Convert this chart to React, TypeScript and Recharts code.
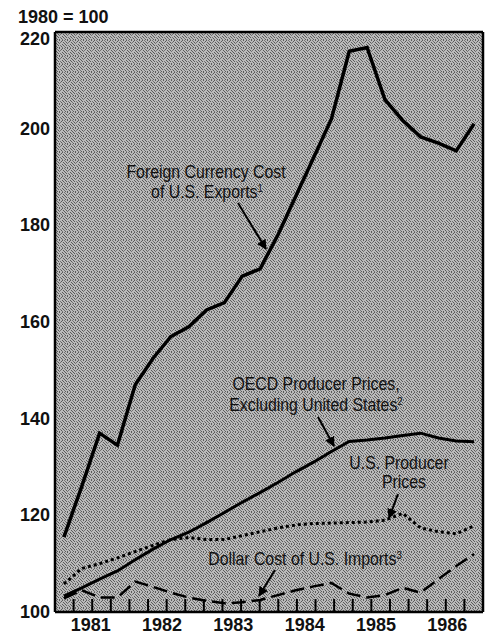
import React from 'react';
import { LineChart, Line, XAxis, YAxis, CartesianGrid } from 'recharts';

// quarterly series, 1981Q1 .. 1986Q4 (1980 = 100)
const quarters = [
  '81Q1', '81Q2', '81Q3', '81Q4',
  '82Q1', '82Q2', '82Q3', '82Q4',
  '83Q1', '83Q2', '83Q3', '83Q4',
  '84Q1', '84Q2', '84Q3', '84Q4',
  '85Q1', '85Q2', '85Q3', '85Q4',
  '86Q1', '86Q2', '86Q3', '86Q4',
];
const years = ['1981', '1982', '1983', '1984', '1985', '1986'];
const yTicks = [100, 120, 140, 160, 180, 200, 220];

const foreignCost = [
  115.5, 126, 137, 134.5, 147, 152.5, 157, 159,
  162.5, 164, 169.5, 171, 178, 186, 194, 202,
  216, 216.8, 206, 201.7, 198.3, 197, 195.4, 201,
];
const oecdPrices = [
  103.3, 105, 106.8, 108.5, 110.8, 113, 115, 116.5,
  118.5, 120.6, 122.7, 124.7, 126.8, 129, 131, 133.2,
  135.3, 135.6, 136, 136.5, 137, 136, 135.4, 135.2,
];
const usPrices = [
  105.8, 109, 110, 111.2, 112.5, 113.8, 115, 115.4,
  115, 115, 115.8, 116.6, 117.4, 118, 118.3, 118.4,
  118.5, 118.6, 119, 120.4, 117.4, 116.6, 116.2, 117.8,
];
const importCost = [
  102.8, 104.5, 103, 103, 106.3, 105.2, 104, 103,
  102.3, 101.8, 102, 102.5, 103.5, 104.5, 105.3, 106,
  103.8, 103, 103.5, 105, 104, 106.8, 109.5, 112,
];

const chartData = quarters.map((q, i) => ({
  q,
  x: i + 0.5,
  foreign: foreignCost[i],
  oecd: oecdPrices[i],
  us: usPrices[i],
  imports: importCost[i],
}));

const yearTicks = years.map((_, i) => i * 4 + 2);
const quarterEdges = quarters.slice(1).map((_, i) => i + 1);

const axisFamily = 'Liberation Sans, Arial, sans-serif';
const axisFont = { fontFamily: axisFamily, fontWeight: 700, fontSize: 18, fill: '#111' };
const blank = () => '';
const frame = { stroke: '#000', strokeWidth: 2.5 };
const tickStroke = { stroke: '#000', strokeWidth: 2 };

// dark specks of the halftone screen behind the plot (8x8 tile)
const specks = [
  [0, 0], [3, 0], [6, 0], [1, 1], [5, 1], [2, 2], [4, 2], [7, 2], [0, 3], [3, 3],
  [6, 4], [1, 4], [4, 5], [7, 5], [2, 5], [0, 6], [5, 6], [3, 7], [6, 7], [1, 7],
];

function YTick(props: any) {
  const { x, y, payload } = props;
  // the top label sits a little below its gridline in the original
  const shift = payload.value === 220 ? 7 : 0;
  return (
    <text x={x} y={y + shift} dy={6} textAnchor="end" {...axisFont}>
      {payload.value}
    </text>
  );
}

function Note({ x, y, children }: { x: number; y: number; children: React.ReactNode }) {
  return (
    <text transform={`translate(${x} ${y}) scale(0.88 1)`} textAnchor="middle">
      {children}
    </text>
  );
}

export default function App() {
  return (
    <div style={{ position: 'absolute', left: 0, top: 0, width: 487, height: 636, background: '#fff' }}>
      <svg width={0} height={0} style={{ position: 'absolute' }}>
        <defs>
          <pattern id="stipple" width={8} height={8} patternUnits="userSpaceOnUse">
            <rect width={8} height={8} fill="#bababa" />
            {specks.map(([sx, sy], i) => (
              <rect key={i} x={sx} y={sy} width={1} height={1} fill={i % 3 ? '#5a5a5a' : '#747474'} />
            ))}
          </pattern>
        </defs>
      </svg>
      <LineChart
        width={487}
        height={636}
        data={chartData}
        margin={{ top: 32, right: 4, bottom: 0, left: 0 }}
      >
        <CartesianGrid horizontal={false} vertical={false} fill="url(#stipple)" fillOpacity={1} />
        <XAxis
          dataKey="x"
          type="number"
          domain={[0, 24]}
          ticks={yearTicks}
          tickFormatter={(v) => years[(v - 2) / 4]}
          stroke="#000"
          axisLine={frame}
          tickLine={false}
          tickSize={0}
          tickMargin={6}
          tick={axisFont}
          height={24}
          interval={0}
        />
        <XAxis
          xAxisId="quarters"
          type="number"
          domain={[0, 24]}
          ticks={quarterEdges}
          tickFormatter={blank}
          orientation="bottom"
          mirror
          height={1}
          stroke="#000"
          axisLine={false}
          tickLine={tickStroke}
          tickSize={13}
          interval={0}
        />
        <XAxis
          xAxisId="top"
          type="number"
          domain={[0, 24]}
          ticks={[0, 24]}
          tickFormatter={blank}
          orientation="top"
          mirror
          height={1}
          stroke="#000"
          axisLine={frame}
          tickLine={false}
          interval={0}
        />
        <YAxis
          domain={[100, 220]}
          ticks={yTicks}
          axisLine={false}
          tickLine={false}
          tick={<YTick />}
          tickSize={0}
          tickMargin={5}
          width={55}
          interval={0}
        />
        <YAxis
          yAxisId="leftMarks"
          domain={[100, 220]}
          ticks={yTicks.slice(1, -1)}
          tickFormatter={blank}
          mirror
          width={1}
          stroke="#000"
          axisLine={frame}
          tickLine={tickStroke}
          tickSize={15}
          interval={0}
        />
        <YAxis
          yAxisId="rightMarks"
          orientation="right"
          domain={[100, 220]}
          ticks={yTicks.slice(1, -1)}
          tickFormatter={blank}
          mirror
          width={1}
          stroke="#000"
          axisLine={frame}
          tickLine={tickStroke}
          tickSize={15}
          interval={0}
        />
        <Line dataKey="imports" stroke="#000" strokeWidth={2.5} strokeDasharray="14 6" dot={false} isAnimationActive={false} type="linear" />
        <Line dataKey="us" stroke="#000" strokeWidth={3} strokeDasharray="3 3" dot={false} isAnimationActive={false} type="linear" />
        <Line dataKey="oecd" stroke="#000" strokeWidth={3} dot={false} isAnimationActive={false} type="linear" />
        <Line dataKey="foreign" stroke="#000" strokeWidth={3.5} dot={false} isAnimationActive={false} type="linear" />
      </LineChart>
      <svg
        width={487}
        height={636}
        style={{ position: 'absolute', left: 0, top: 0, pointerEvents: 'none' }}
      >
        <defs>
          <marker id="arrow" viewBox="0 0 10 10" refX="9" refY="5" markerWidth="5" markerHeight="5" orient="auto">
            <path d="M0,0 L10,5 L0,10 z" fill="#000" />
          </marker>
        </defs>
        <text x={18} y={23} {...axisFont}>1980 = 100</text>
        <g fontFamily={axisFamily} fontSize={18} fill="#111">
          <Note x={206} y={178}>Foreign Currency Cost</Note>
          <Note x={207} y={198}>
            of U.S. Exports<tspan fontSize={11} dy={-6}>1</tspan>
          </Note>
          <Note x={316} y={390}>OECD Producer Prices,</Note>
          <Note x={316} y={411}>
            Excluding United States<tspan fontSize={11} dy={-6}>2</tspan>
          </Note>
          <Note x={399} y={469}>U.S. Producer</Note>
          <Note x={404} y={488}>Prices</Note>
          <Note x={305} y={565}>
            Dollar Cost of U.S. Imports<tspan fontSize={11} dy={-6}>3</tspan>
          </Note>
        </g>
        <g stroke="#000" strokeWidth={2} markerEnd="url(#arrow)">
          <line x1={238} y1={203} x2={266} y2={249} />
          <line x1={318} y1={417} x2={334} y2={446} />
          <line x1={398} y1={494} x2={389} y2={518} />
          <line x1={275} y1={570} x2={259} y2={596} />
        </g>
      </svg>
    </div>
  );
}
